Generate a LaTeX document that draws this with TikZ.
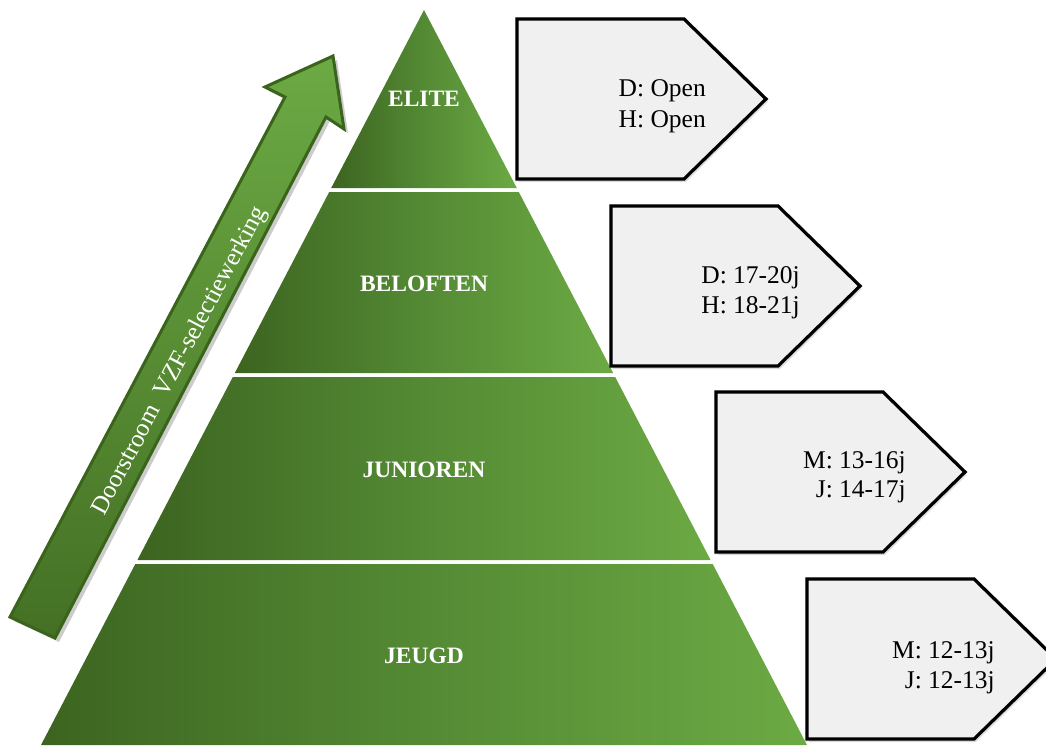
\documentclass[tikz,border=0pt]{standalone}
\usepackage{fontspec}
\setmainfont{Liberation Serif}
\definecolor{gdark}{RGB}{60,100,32}
\definecolor{gmid}{RGB}{84,138,52}
\definecolor{glight}{RGB}{108,170,68}
\definecolor{adark}{RGB}{68,112,36}
\definecolor{arrowedge}{RGB}{58,100,28}
\definecolor{boxfill}{RGB}{240,240,240}
\tikzset{
  band/.style={left color=gdark, right color=glight, middle color=gmid},
  lbl/.style={font=\fontsize{23.5}{28}\selectfont\bfseries, text=white, inner sep=0pt, anchor=base},
  tagtext/.style={font=\fontsize{25.5}{31}\selectfont, text=black, inner sep=0pt, anchor=base east},
  pics/tagbox/.style={code={
    \fill[black,opacity=0.06] (-2,-2) -- ++(170,0) -- ++(84,82) -- ++(-84,83) -- ++(-170,0) -- cycle;
    \fill[black,opacity=0.10] (2,3) -- ++(167,0) -- ++(82,80) -- ++(-82,80) -- ++(-167,0) -- cycle;
    \draw[line width=3.2pt, fill=boxfill, line join=miter] (0,0) -- (167,0) -- (249,80) -- (167,160) -- (0,160) -- cycle;
  }}
}
\begin{document}
\begin{tikzpicture}[x=1pt,y=-1pt]
\useasboundingbox (0,0) rectangle (1046,745);
\clip (0,0) rectangle (1046,745);
% pyramid bands
\shade[band] (331.2,188) -- (424,10) -- (516.8,188) -- cycle;
\shade[band] (329.2,192) -- (518.8,192) -- (613.2,373) -- (234.8,373) -- cycle;
\shade[band] (232.8,377) -- (615.2,377) -- (710.6,560) -- (137.4,560) -- cycle;
\shade[band] (135.3,564) -- (712.7,564) -- (807,745) -- (41,745) -- cycle;
\node[lbl] (elite) at (424,106) {ELITE};
\node[lbl] (beloften) at (424,291.7) {BELOFTEN};
\node[lbl] (junioren) at (424,477) {JUNIOREN};
\node[lbl] (jeugd) at (424,663) {JEUGD};
% arrow
\fill[black,opacity=0.20] (14,621) -- (289,101) -- (269,91) -- (337,60) -- (348,133) -- (330,121) -- (59,642) -- cycle;
\shadedraw[top color=glight, bottom color=adark, draw=arrowedge, line width=3pt, line join=miter]
  (10,617) -- (285,97) -- (265,87) -- (333,56) -- (344,129) -- (326,117) -- (55,638) -- cycle;
\node[rotate=62.1, text=white, font=\fontsize{25}{30}\selectfont, inner sep=0pt] (flow) at (180,361) {Doorstroom\ \ VZF-selectiewerking};
% tag boxes
\pic at (517,19) {tagbox};
\pic at (611,206) {tagbox};
\pic at (716,392) {tagbox};
\pic at (807,579) {tagbox};
\node[tagtext] (e1) at (706,96) {D: Open};
\node[tagtext] (e2) at (706,127) {H: Open};
\node[tagtext] (b1) at (800,283) {D: 17-20j};
\node[tagtext] (b2) at (800,313) {H: 18-21j};
\node[tagtext] (j1) at (906,468) {M: 13-16j};
\node[tagtext] (j2) at (906,497) {J: 14-17j};
\node[tagtext] (g1) at (995,658) {M: 12-13j};
\node[tagtext] (g2) at (995,688) {J: 12-13j};
\end{tikzpicture}
\end{document}
